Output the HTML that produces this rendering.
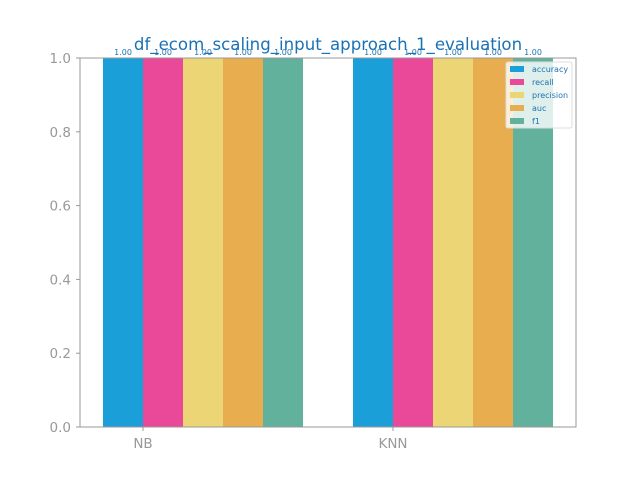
<!DOCTYPE html>
<html><head><meta charset="utf-8"><style>
html,body{margin:0;padding:0;background:#fff}
svg{display:block;font-family:"DejaVu Sans","Liberation Sans",sans-serif}
</style></head><body>
<svg id="chart" width="640" height="480">
<text x="328" y="50" text-anchor="middle" font-size="16.6" fill="#1a72b5">df_ecom_scaling_input_approach_1_evaluation</text>
<g id="bars"></g>
<g id="labels"></g>
<g id="yticks"></g>
<g id="xticks"></g>
<rect x="80" y="58" width="496" height="369" fill="none" stroke="#999" stroke-width="1"/>
<g>
<rect x="506" y="62" width="66" height="66" fill="#fff" fill-opacity="0.8" stroke="#ddd" rx="2"/>
<g id="legend-items"></g>
</g>
</svg>
<script>
const categories=["NB","KNN"];
const metrics=["accuracy","recall","precision","auc","f1"];
const colors=["#1b9fd8","#ea4899","#ebd575","#e8ad4e","#62b19d"];
const accuracy=[1.00,1.00];
const recall=[1.00,1.00];
const precision=[1.00,1.00];
const auc=[1.00,1.00];
const f1=[1.00,1.00];
const yTicks=[0.0,0.2,0.4,0.6,0.8,1.0];
const series=[accuracy,recall,precision,auc,f1];
const NS="http://www.w3.org/2000/svg";
const y0=427,y1=58;
function yScale(v){return y0-(v-0)/(1-0)*(y0-y1);}
function xGroup(i){return 103+i*250;}
const bw=40;
function mk(tag,attrs,parent){const e=document.createElementNS(NS,tag);for(const k in attrs)e.setAttribute(k,attrs[k]);parent.appendChild(e);return e;}
const gb=document.getElementById('bars'),gl=document.getElementById('labels');
series.forEach((s,m)=>{s.forEach((v,i)=>{
 const x=xGroup(i)+m*bw;
 const r=mk('rect',{x:x,y:yScale(v),width:bw,height:y0-yScale(v),fill:colors[m]},gb);
 
 
 const t=mk('text',{x:x+bw/2,y:yScale(v)-3,'text-anchor':'middle','font-size':'8',fill:'#1a72b5'},gl);
 t.textContent=v.toFixed(2);
 
 
});});
const gy=document.getElementById('yticks');
yTicks.forEach(v=>{
 mk('line',{x1:76,x2:80,y1:yScale(v),y2:yScale(v),stroke:'#999'},gy);
 const t=mk('text',{x:71,y:yScale(v)+5,'text-anchor':'end','font-size':'13.5',fill:'#999'},gy);
 t.textContent=v.toFixed(1);
 
 
});
const gx=document.getElementById('xticks');
categories.forEach((c,i)=>{
 const x=xGroup(i)+bw;
 mk('line',{x1:x,x2:x,y1:427,y2:431,stroke:'#999'},gx);
 const t=mk('text',{x:x,y:448,'text-anchor':'middle','font-size':'13.5',fill:'#999'},gx);
 t.textContent=c;
 
 
});
const li=document.getElementById('legend-items');
metrics.forEach((m,k)=>{
 const y=69+k*13;
 mk('rect',{x:510,y:y-3,width:14,height:6,fill:colors[k]},li);
 const t=mk('text',{x:532,y:y+3,'font-size':'8',fill:'#1a72b5'},li);
 t.textContent=m;
 
 
});
</script>
</body></html>
